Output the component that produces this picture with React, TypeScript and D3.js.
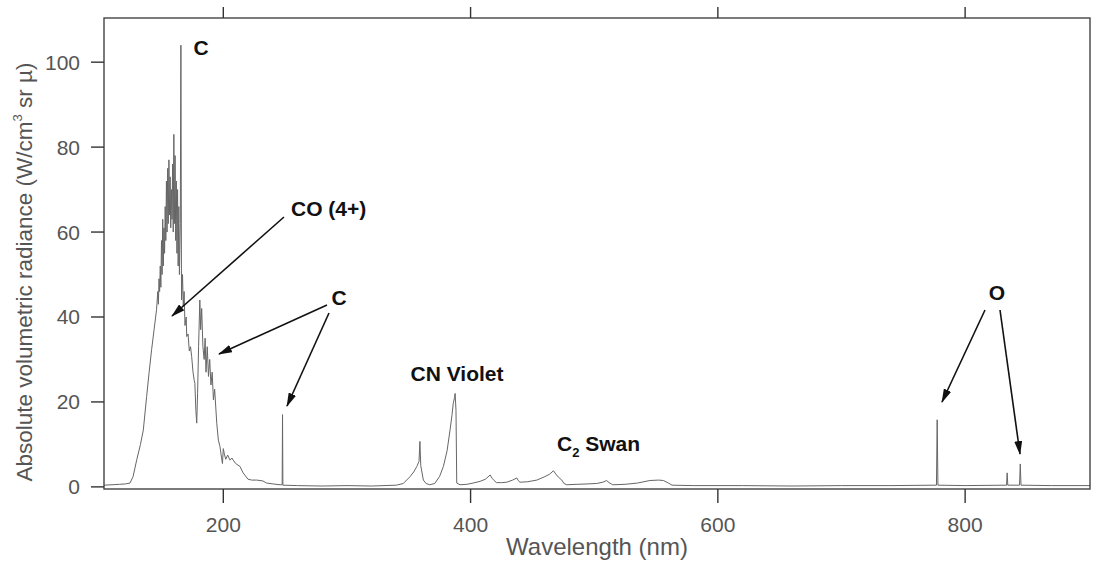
import * as d3 from 'd3'

// spectrum (nm, W/cm^3 sr µ)
const wavelength = [
  103.5, 110, 116, 121, 124.5, 127, 130, 133, 135.3, 138, 140, 142, 144, 146, 147, 147.5, 148, 148.5, 149, 149.5,
  150, 150.5, 151, 151.5, 152, 152.5, 153, 153.5, 154, 154.5, 155, 155.5, 156, 156.5, 157, 157.5, 158, 158.5, 159, 159.5,
  160, 160.5, 161, 161.5, 162, 162.5, 163, 163.5, 164, 164.5, 165.2, 165.7, 166.2, 167, 167.6, 168.3, 169, 170, 170.4, 171.5,
  172.5, 173.5, 174.4, 175.5, 176.5, 177, 177.8, 178.5, 179.2, 180, 181, 181.7, 182.5, 183.5, 184.5, 185.3, 186, 187, 188, 189,
  190, 191, 192, 193, 194.7, 196, 197.3, 198.5, 199.3, 200, 201, 202, 203.5, 205.4, 207, 208, 210, 213.5, 216, 220,
  223, 227, 232, 235, 240, 245.9, 247.6, 247.9, 248.2, 260, 280, 300, 320, 340, 345.6, 351, 354, 356.5, 358.3, 359,
  359.7, 361.8, 364, 367, 371, 375, 378, 381, 383.4, 385, 386, 387, 387.5, 388.2, 388.8, 391.5, 397, 402, 407.7, 412,
  415.8, 417.5, 419, 421, 425, 429.3, 434, 437.4, 438.5, 440, 446, 453.6, 460, 464, 467, 469, 471, 473.8, 475.5, 477.8,
  486, 495, 502, 507, 510, 512, 515, 525, 535, 545, 552, 556, 560, 563, 580, 620, 660, 700, 740, 776.8,
  777.4, 778, 800, 833.5, 834, 834.5, 844, 844.6, 845.2, 870, 901,
]
const radiance = [
  0.4, 0.5, 0.6, 0.7, 0.9, 2.4, 6.4, 10, 13.4, 21.3, 27, 32.3, 37, 41.7, 46, 43, 49, 46, 52, 47,
  58, 50, 63, 52, 61, 55, 66, 58, 72, 60, 75, 62, 77, 64, 73, 61, 70, 63, 76, 60,
  83, 62, 78, 58, 72, 55, 70, 52, 66, 50, 62, 104, 44, 50, 42.5, 46, 38, 40, 35.4, 36,
  32, 33, 30.7, 27, 25, 24.4, 18, 15, 22, 33, 44, 37, 42, 33, 30, 35, 27, 33, 26, 30,
  24, 27, 20.5, 23, 15, 11, 9.5, 7, 5.5, 9, 7.5, 6.5, 7.5, 6.3, 6.8, 6.3, 5.5, 4.8, 3.3, 1.8,
  1.6, 1.6, 1.4, 0.9, 0.7, 0.5, 0.5, 17, 0.4, 0.3, 0.2, 0.3, 0.2, 0.4, 0.8, 2.4, 3.5, 4.8, 6, 10.7,
  5, 1.6, 0.8, 0.5, 0.8, 2.5, 4.8, 8.5, 13.4, 17, 19.7, 21, 22, 18, 0.9, 0.5, 0.6, 0.9, 1.3, 1.8,
  2.8, 2.0, 1.5, 1.0, 1.0, 1.1, 1.6, 2.1, 1.5, 1.1, 1.2, 1.6, 2.4, 3.0, 3.8, 3.0, 2.3, 1.6, 0.8, 0.5,
  0.6, 0.7, 0.8, 1.1, 1.5, 1.0, 0.5, 0.6, 0.9, 1.5, 1.6, 1.5, 0.9, 0.4, 0.3, 0.3, 0.2, 0.3, 0.3, 0.4,
  15.8, 0.4, 0.3, 0.4, 3.3, 0.4, 0.4, 5.4, 0.4, 0.3, 0.3,
]
const xTicks = [200, 400, 600, 800]
const yTicks = [0, 20, 40, 60, 80, 100]

const FONT = '"Liberation Sans", Arial, Helvetica, sans-serif'

export default function App() {
  const left = 104
  const right = 1090
  const top = 18
  const bottom = 489

  const x = d3.scaleLinear().domain([103.5, 901]).range([left, right])
  const y = d3.scaleLinear().domain([-0.5, 110.4]).range([bottom, top])

  const line = d3
    .line<number>()
    .x((d, i) => x(wavelength[i]))
    .y((d) => y(d))

  const arrows = [
    [284, 217, 172, 316],
    [327, 305, 219, 354],
    [329, 313, 287, 406],
    [985, 310, 942, 402],
    [1000, 310, 1020, 454],
  ]

  return (
    <svg
      width={1094}
      height={565}
      style={{ position: 'absolute', left: 0, top: 0, background: '#fff' }}
      fontFamily={FONT}
    >
      <defs>
        <clipPath id='plot'>
          <rect x={left} y={top} width={right - left} height={bottom - top} />
        </clipPath>
        <marker
          id='head'
          markerUnits='userSpaceOnUse'
          markerWidth={14}
          markerHeight={8}
          refX={13}
          refY={4}
          orient='auto'
        >
          <path d='M0,0 L14,4 L0,8 z' fill='#111' />
        </marker>
      </defs>

      {/* spectrum */}
      <path
        d={line(radiance) || ''}
        fill='none'
        stroke='#666'
        strokeWidth={1}
        clipPath='url(#plot)'
      />

      {/* frame */}
      <rect
        x={left}
        y={top}
        width={right - left}
        height={bottom - top}
        fill='none'
        stroke='#444'
        strokeWidth={1.4}
      />

      {/* x ticks, bottom and top */}
      {xTicks.map((t) => (
        <g key={t}>
          <line x1={x(t)} x2={x(t)} y1={bottom} y2={bottom + 14} stroke='#333' strokeWidth={1.4} />
          <line x1={x(t)} x2={x(t)} y1={top} y2={top - 11} stroke='#333' strokeWidth={1.4} />
          <text x={x(t)} y={532} textAnchor='middle' fontSize={21} fill='#555'>
            {t}
          </text>
        </g>
      ))}

      {/* y ticks */}
      {yTicks.map((t) => (
        <g key={t}>
          <line x1={left - 13} x2={left} y1={y(t)} y2={y(t)} stroke='#333' strokeWidth={1.4} />
          <text x={80} y={y(t) + 7.5} textAnchor='end' fontSize={21} fill='#555'>
            {t}
          </text>
        </g>
      ))}

      {/* axis titles */}
      <text x={(left + right) / 2} y={555} textAnchor='middle' fontSize={24} fill='#555'>
        Wavelength (nm)
      </text>
      <text
        transform='translate(32, 272) rotate(-90)'
        textAnchor='middle'
        fontSize={22.5}
        fill='#555'
      >
        Absolute volumetric radiance (W/cm
        <tspan fontSize={13} dy={-10}>3</tspan>
        <tspan dy={10}> sr µ)</tspan>
      </text>

      {/* annotations */}
      {arrows.map((a, i) => (
        <line
          key={i}
          x1={a[0]}
          y1={a[1]}
          x2={a[2]}
          y2={a[3]}
          stroke='#111'
          strokeWidth={1.6}
          markerEnd='url(#head)'
        />
      ))}
      <g fontWeight='bold' fill='#111' fontSize={21}>
        <text x={201} y={55} textAnchor='middle'>C</text>
        <text x={291} y={216}>CO (4+)</text>
        <text x={339} y={305} textAnchor='middle'>C</text>
        <text x={457} y={381} textAnchor='middle'>CN Violet</text>
        <text x={557} y={451}>
          C<tspan fontSize={13} dy={6}>2</tspan>
          <tspan dy={-6}> Swan</tspan>
        </text>
        <text x={997} y={300} textAnchor='middle'>O</text>
      </g>
    </svg>
  )
}
